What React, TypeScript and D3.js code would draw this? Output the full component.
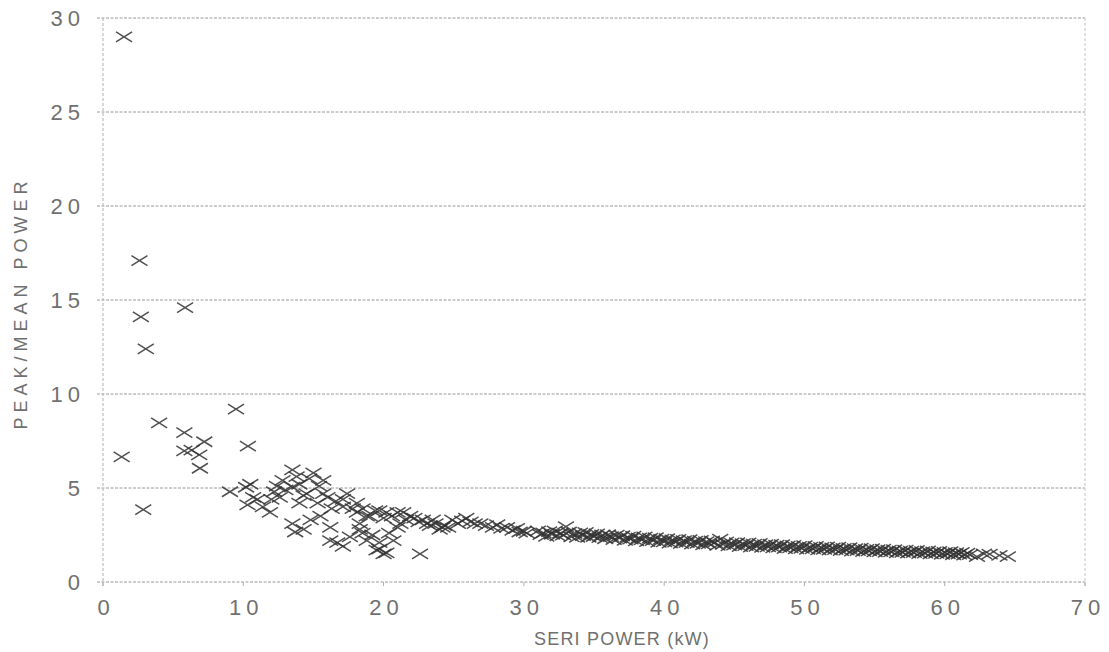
import React from "react";
import * as d3 from "d3";

// ---- data (kW, peak/mean ratio) ----
const xTicks = [0, 10, 20, 30, 40, 50, 60, 70];
const yTicks = [0, 5, 10, 15, 20, 25, 30];

const sparsePoints: [number, number][] = [
  [1.5, 29.0], [2.6, 17.1], [2.7, 14.1], [3.05, 12.4], [5.85, 14.6],
  [1.33, 6.66], [2.87, 3.85], [4.0, 8.46], [5.8, 7.94], [5.8, 6.97],
  [6.32, 7.02], [6.86, 6.76], [7.22, 7.46], [6.91, 6.05], [9.48, 9.2],
  [10.33, 7.23],
];

const clusterPoints: [number, number][] = [
  [9.05, 4.8], [10.2, 5.04], [10.5, 5.2], [10.3, 4.1], [10.7, 4.5], [11.0, 4.4],
  [11.4, 4.0], [11.9, 3.7], [12.0, 4.4], [12.2, 4.8], [12.4, 5.1], [12.8, 5.4],
  [12.6, 4.5], [13.0, 4.9], [13.5, 5.96], [13.5, 5.05], [13.8, 5.6], [14.0, 5.2],
  [14.3, 4.6], [14.5, 4.7], [14.0, 4.2], [14.7, 5.5], [15.0, 5.8], [15.4, 5.1],
  [15.7, 5.4], [15.7, 4.7], [15.3, 4.2], [16.0, 4.5], [16.3, 3.9], [16.6, 4.3],
  [17.1, 4.4], [17.4, 4.7], [17.1, 4.0], [17.8, 3.9], [18.1, 4.2], [18.1, 3.7],
  [18.5, 3.9], [18.8, 3.5], [19.0, 3.5], [19.4, 3.8], [19.7, 3.8], [20.0, 3.4],
  [13.5, 3.1], [13.7, 2.66], [14.3, 2.8], [14.8, 3.3], [15.5, 3.5], [16.2, 2.9],
  [16.2, 2.2], [16.7, 2.1], [17.1, 1.9], [17.6, 2.4], [18.3, 3.1], [18.5, 2.6],
  [18.3, 2.8], [18.8, 2.2], [19.2, 2.5], [19.7, 2.1], [19.5, 1.7], [19.7, 1.75],
  [20.0, 1.5], [20.2, 1.55], [20.7, 2.2], [20.4, 2.6], [21.0, 2.9], [21.2, 3.1],
  [22.6, 1.5],
  [20.2, 3.7], [20.6, 3.5], [21.0, 3.7], [21.4, 3.7], [21.6, 3.3], [21.9, 3.5],
  [22.2, 3.4], [22.5, 3.2], [22.8, 3.3], [23.1, 3.1], [23.3, 3.0], [23.5, 3.3],
  [23.7, 3.1], [24.0, 2.8], [24.2, 2.9], [24.3, 3.0], [24.6, 2.9], [24.9, 3.3],
  [25.3, 3.1], [25.6, 3.25], [25.9, 3.4], [26.2, 3.2], [26.5, 3.1], [26.9, 3.1],
  [27.3, 3.0], [27.8, 2.9], [28.1, 3.05], [28.4, 2.85], [28.8, 2.9], [29.2, 2.75],
  [29.5, 2.85], [29.7, 2.66], [30.0, 2.7], [30.2, 2.6],
];

const bandPoints: [number, number][] = [
  [31.0, 2.72], [31.2, 2.52], [31.4, 2.61], [31.6, 2.43], [31.8, 2.68], [32.0, 2.54],
  [32.2, 2.72], [32.4, 2.45], [32.6, 2.6], [32.8, 2.49], [33.0, 2.95], [33.2, 2.66],
  [33.4, 2.4], [33.6, 2.58], [33.8, 2.37], [34.0, 2.61], [34.2, 2.47], [34.4, 2.64],
  [34.6, 2.38], [34.8, 2.53], [35.0, 2.42], [35.2, 2.56], [35.4, 2.36], [35.6, 2.5],
  [35.8, 2.3], [36.0, 2.52], [36.2, 2.41], [36.4, 2.25], [36.6, 2.49], [36.8, 2.33],
  [37.0, 2.46], [37.2, 2.22], [37.4, 2.39], [37.6, 2.28], [37.8, 2.44], [38.0, 2.19],
  [38.2, 2.35], [38.4, 2.24], [38.6, 2.4], [38.8, 2.15], [39.0, 2.33], [39.2, 2.2],
  [39.4, 2.36], [39.6, 2.11], [39.8, 2.28], [40.0, 2.14], [40.2, 2.3], [40.4, 2.07],
  [40.6, 2.24], [40.8, 2.12], [41.0, 2.27], [41.2, 2.04], [41.4, 2.2], [41.6, 2.09],
  [41.8, 2.25], [42.0, 2.02], [42.2, 2.17], [42.4, 2.06], [42.6, 2.21], [42.8, 1.98],
  [43.0, 2.15], [43.2, 2.03], [43.4, 2.19], [43.6, 2.1], [43.8, 1.95], [44.0, 2.28],
  [44.2, 2.0], [44.4, 2.13], [44.6, 1.92], [44.8, 2.08], [45.0, 1.96], [45.2, 2.1],
  [45.4, 1.88], [45.6, 2.04], [45.8, 1.93], [46.0, 2.08], [46.2, 1.86], [46.4, 2.01],
  [46.6, 1.9], [46.8, 2.05], [47.0, 1.84], [47.2, 1.99], [47.4, 1.87], [47.6, 2.02],
  [47.8, 1.81], [48.0, 1.96], [48.2, 1.85], [48.4, 1.99], [48.6, 1.78], [48.8, 1.92],
  [49.0, 1.82], [49.2, 1.95], [49.4, 1.76], [49.6, 1.89], [49.8, 1.79], [50.0, 1.93],
  [50.2, 1.73], [50.4, 1.86], [50.6, 1.76], [50.8, 1.9], [51.0, 1.71], [51.2, 1.84],
  [51.4, 1.74], [51.6, 1.87], [51.8, 1.69], [52.0, 1.82], [52.2, 1.72], [52.4, 1.85],
  [52.6, 1.67], [52.8, 1.79], [53.0, 1.7], [53.2, 1.83], [53.4, 1.64], [53.6, 1.77],
  [53.8, 1.67], [54.0, 1.8], [54.2, 1.62], [54.4, 1.74], [54.6, 1.65], [54.8, 1.78],
  [55.0, 1.6], [55.2, 1.72], [55.4, 1.62], [55.6, 1.75], [55.8, 1.57], [56.0, 1.69],
  [56.2, 1.6], [56.4, 1.72], [56.6, 1.55], [56.8, 1.66], [57.0, 1.58], [57.2, 1.7],
  [57.4, 1.53], [57.6, 1.64], [57.8, 1.56], [58.0, 1.68], [58.2, 1.51], [58.4, 1.62],
  [58.6, 1.54], [58.8, 1.66], [59.0, 1.49], [59.2, 1.6], [59.4, 1.52], [59.6, 1.63],
  [59.8, 1.47], [60.0, 1.58], [60.2, 1.5], [60.4, 1.61], [60.6, 1.45], [60.8, 1.56],
  [61.0, 1.48], [61.2, 1.58], [61.4, 1.43], [61.6, 1.53], [61.8, 1.46],
  [62.3, 1.35], [62.8, 1.5], [63.2, 1.48], [63.9, 1.42], [64.5, 1.35],
];

const allPoints = [...sparsePoints, ...clusterPoints, ...bandPoints];

const W = 1109;
const H = 652;
const x = d3.scaleLinear().domain([0, 70]).range([103, 1085]);
const y = d3.scaleLinear().domain([0, 30]).range([582, 18]);

const FONT = "'Liberation Sans', 'DejaVu Sans', sans-serif";
const TXT = "#707070";

function marker(cx: number, cy: number) {
  const hw = 8;
  const hh = 5;
  return `M${cx - hw},${cy - hh}L${cx + hw},${cy + hh}M${cx - hw},${cy + hh}L${cx + hw},${cy - hh}`;
}

export default function App() {
  const [x0, x1] = x.range();
  const [y0, y1] = y.range();
  return (
    <svg
      width={W}
      height={H}
      style={{ position: "absolute", left: 0, top: 0, background: "#fff" }}
    >
      <rect width={W} height={H} fill="#fff" />
      {/* horizontal grid */}
      {yTicks.map((t) => (
        <line
          key={"g" + t}
          x1={x0 - 6}
          x2={x1}
          y1={y(t)}
          y2={y(t)}
          stroke="#9a9a9a"
          strokeWidth={1}
          strokeDasharray="3,1.5"
        />
      ))}
      {/* left and right borders */}
      <line x1={x0} x2={x0} y1={y1} y2={y0 + 4} stroke="#b0b0b0" strokeWidth={1} strokeDasharray="3,2" />
      <line x1={x1} x2={x1} y1={y1} y2={y0 + 4} stroke="#c4c4c4" strokeWidth={1} strokeDasharray="3,2" />
      {/* x ticks */}
      {xTicks.map((t) => (
        <line key={"xt" + t} x1={x(t)} x2={x(t)} y1={y0} y2={y0 + 4} stroke="#b0b0b0" strokeWidth={1} />
      ))}
      {/* y tick labels */}
      {yTicks.map((t) => (
        <text
          key={"yl" + t}
          x={85}
          y={y(t) + 8}
          textAnchor="end"
          fontFamily={FONT}
          fontSize={22}
          fontWeight={300}
          letterSpacing={5}
          fill={TXT}
        >
          {t}
        </text>
      ))}
      {/* x tick labels */}
      {xTicks.map((t) => (
        <text
          key={"xl" + t}
          x={x(t) + 3}
          y={615}
          textAnchor="middle"
          fontFamily={FONT}
          fontSize={22}
          fontWeight={300}
          letterSpacing={5}
          fill={TXT}
        >
          {t}
        </text>
      ))}
      {/* axis titles */}
      <text
        x={622}
        y={645}
        textAnchor="middle"
        fontFamily={FONT}
        fontSize={18}
        letterSpacing={1.2}
        fill={TXT}
      >
        SERI POWER (kW)
      </text>
      <text
        transform={`translate(27,${303}) rotate(-90)`}
        textAnchor="middle"
        fontFamily={FONT}
        fontSize={18}
        letterSpacing={5}
        fill={TXT}
      >
        PEAK/MEAN POWER
      </text>
      {/* markers */}
      <g stroke="#333" strokeWidth={1.5} fill="none" strokeOpacity={0.85}>
        {allPoints.map(([px, py], i) => (
          <path key={i} d={marker(x(px), y(py))} />
        ))}
      </g>
    </svg>
  );
}
